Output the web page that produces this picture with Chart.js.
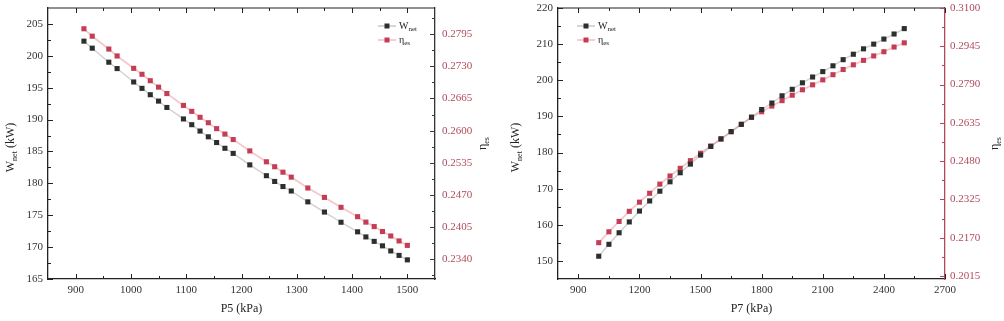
<!DOCTYPE html>
<html>
<head>
<meta charset="utf-8">
<script src="https://cdn.jsdelivr.net/npm/chart.js@4/dist/chart.umd.min.js"></script>
<style>
  body { margin: 0; background: #fff; }
  canvas { position: absolute; top: 0; }
  #c5 { left: 0; }
  #c7 { left: 502px; }
</style>
</head>
<body>
<canvas id="c5" width="502" height="321"></canvas>
<canvas id="c7" width="502" height="321"></canvas>
<script>
// left panel: P5 sweep
const p5 = [915, 930, 960, 975, 1005, 1020, 1035, 1050, 1065, 1095, 1110, 1125, 1140, 1155, 1170, 1185,
            1215, 1245, 1260, 1275, 1290, 1320, 1350, 1380, 1410, 1425, 1440, 1455, 1470, 1485, 1500];
const wNet5 = [202.3, 201.2, 199.0, 198.0, 195.9, 194.9, 193.9, 192.9, 191.9, 190.1, 189.2, 188.2, 187.3, 186.4, 185.5, 184.7,
               182.9, 181.2, 180.3, 179.5, 178.8, 177.1, 175.5, 173.9, 172.4, 171.6, 170.9, 170.2, 169.4, 168.7, 168.0];
const eta5 = [0.2806, 0.2791, 0.2765, 0.2751, 0.2726, 0.2714, 0.2701, 0.2688, 0.2675, 0.2651, 0.2639, 0.2627, 0.2616, 0.2604, 0.2593, 0.2582,
              0.2559, 0.2537, 0.2527, 0.2516, 0.2506, 0.2484, 0.2465, 0.2445, 0.2426, 0.2415, 0.2406, 0.2396, 0.2387, 0.2377, 0.2368];
const p5Ticks = [900, 1000, 1100, 1200, 1300, 1400, 1500];
const w5Ticks = [165, 170, 175, 180, 185, 190, 195, 200, 205];
const eta5Ticks = [0.2340, 0.2405, 0.2470, 0.2535, 0.2600, 0.2665, 0.2730, 0.2795];

// right panel: P7 sweep
const p7 = [1000, 1050, 1100, 1150, 1200, 1250, 1300, 1350, 1400, 1450, 1500, 1550, 1600, 1650, 1700, 1750,
            1800, 1850, 1900, 1950, 2000, 2050, 2100, 2150, 2200, 2250, 2300, 2350, 2400, 2450, 2500];
const wNet7 = [151.3, 154.6, 157.8, 160.8, 163.8, 166.6, 169.3, 171.9, 174.4, 176.8, 179.3, 181.7, 183.8, 185.8, 187.8, 189.8,
               191.9, 193.7, 195.7, 197.5, 199.3, 200.9, 202.4, 204.0, 205.7, 207.2, 208.7, 210.0, 211.4, 212.8, 214.3];
const eta7 = [0.2150, 0.2194, 0.2236, 0.2277, 0.2314, 0.2350, 0.2387, 0.2420, 0.2451, 0.2482, 0.2512, 0.2541, 0.2569, 0.2599, 0.2629, 0.2657,
              0.2680, 0.2703, 0.2725, 0.2747, 0.2769, 0.2789, 0.2809, 0.2830, 0.2851, 0.2870, 0.2888, 0.2906, 0.2923, 0.2942, 0.2959];
const p7Ticks = [900, 1200, 1500, 1800, 2100, 2400, 2700];
const w7Ticks = [150, 160, 170, 180, 190, 200, 210, 220];
const eta7Ticks = [0.2015, 0.2170, 0.2325, 0.2480, 0.2635, 0.2790, 0.2945, 0.3100];

const FONT = '"Liberation Serif", "Times New Roman", serif';
const DARK = '#2b302d';
const RED = '#c43d55';
const RED_AXIS = '#b04a5a';

// text with subscript parts, e.g. [['W'], ['net', true], [' (kW)']]
function subText(ctx, x, y, parts, size) {
  const big = size + 'px ' + FONT, small = Math.round(size * 0.7) + 'px ' + FONT;
  let w = 0;
  parts.forEach(([t, s]) => { ctx.font = s ? small : big; w += ctx.measureText(t).width; });
  let cx = x - w / 2;
  parts.forEach(([t, s]) => {
    ctx.font = s ? small : big;
    ctx.fillText(t, cx, s ? y + size * 0.3 : y);
    cx += ctx.measureText(t).width;
  });
}

function minorsOf(majors, scale) {
  const step = majors[1] - majors[0];
  const out = [];
  for (let i = -1; i < majors.length; i++) {
    const v = majors[0] + step * (i + 0.5);
    if (v > scale.min && v < scale.max) out.push(v);
  }
  return out;
}

function marks(ctx, scale, majors, side, a, color) {
  ctx.strokeStyle = color;
  ctx.lineWidth = 1;
  const draw = (v, len) => {
    const p = Math.round(scale.getPixelForValue(v)) + 0.5;
    ctx.beginPath();
    if (side === 'bottom') { ctx.moveTo(p, a.bottom); ctx.lineTo(p, a.bottom - len); }
    if (side === 'top') { ctx.moveTo(p, a.top); ctx.lineTo(p, a.top + len); }
    if (side === 'left') { ctx.moveTo(a.left, p); ctx.lineTo(a.left + len, p); }
    if (side === 'right') { ctx.moveTo(a.right, p); ctx.lineTo(a.right - len, p); }
    ctx.stroke();
  };
  majors.forEach(v => draw(v, 5));
  minorsOf(majors, scale).forEach(v => draw(v, 3));
}

const decor = {
  id: 'decor',
  afterDraw(chart, args, o) {
    const { ctx, chartArea: a, scales } = chart;
    ctx.save();
    // top frame line
    ctx.strokeStyle = '#222';
    ctx.lineWidth = 1.2;
    ctx.beginPath();
    ctx.moveTo(a.left, a.top);
    ctx.lineTo(a.right, a.top);
    ctx.stroke();

    marks(ctx, scales.x, o.xTicks, 'bottom', a, '#222');
    marks(ctx, scales.x, o.xTicks, 'top', a, '#222');
    marks(ctx, scales.y, o.wTicks, 'left', a, '#222');
    marks(ctx, scales.y2, o.etaTicks, 'right', a, o.rightColor);

    // axis titles
    ctx.fillStyle = '#222';
    ctx.textBaseline = 'middle';
    subText(ctx, (a.left + a.right) / 2, 309, [[o.xTitle]], 12);
    const midY = (a.top + a.bottom) / 2;
    ctx.save();
    ctx.translate(o.wTitleX, midY + 4);
    ctx.rotate(-Math.PI / 2);
    subText(ctx, 0, 0, [['W'], ['net', true], [' (kW)']], 12);
    ctx.restore();
    ctx.save();
    ctx.translate(o.etaTitleX, midY);
    ctx.rotate(-Math.PI / 2);
    subText(ctx, 0, 0, [['η'], ['es', true]], 12);
    ctx.restore();

    // legend
    const rows = [
      { label: [['W'], ['net', true]], line: 'rgba(140,140,140,0.6)', fill: DARK },
      { label: [['η'], ['es', true]], line: 'rgba(230,120,135,0.6)', fill: RED }
    ];
    rows.forEach((r, i) => {
      const y = o.legY + i * 14;
      ctx.strokeStyle = r.line;
      ctx.lineWidth = 1.2;
      ctx.beginPath();
      ctx.moveTo(o.legX, y);
      ctx.lineTo(o.legX + 18, y);
      ctx.stroke();
      ctx.fillStyle = r.fill;
      ctx.fillRect(o.legX + 6.5, y - 2.5, 5, 5);
      ctx.fillStyle = '#222';
      ctx.font = '10px ' + FONT;
      const w0 = ctx.measureText(r.label[0][0]).width;
      ctx.font = '7px ' + FONT;
      const w1 = ctx.measureText(r.label[1][0]).width;
      subText(ctx, o.legX + 21 + (w0 + w1) / 2, y, r.label, 10);
    });
    ctx.restore();
  }
};

function makeChart(id, c) {
  const fixTicks = arr => s => { s.ticks = arr.map(v => ({ value: v })); };
  return new Chart(id, {
    type: 'scatter',
    data: {
      datasets: [
        {
          label: 'Wnet',
          data: c.x.map((v, i) => ({ x: v, y: c.w[i] })),
          yAxisID: 'y',
          showLine: true,
          borderColor: 'rgba(150,150,150,0.45)',
          borderWidth: 1.4,
          pointStyle: 'rect',
          pointRadius: 3.6,
          pointBackgroundColor: DARK,
          pointBorderWidth: 0
        },
        {
          label: 'ηes',
          data: c.x.map((v, i) => ({ x: v, y: c.eta[i] })),
          yAxisID: 'y2',
          showLine: true,
          borderColor: 'rgba(235,130,145,0.45)',
          borderWidth: 1.8,
          pointStyle: 'rect',
          pointRadius: 3.6,
          pointBackgroundColor: RED,
          pointBorderWidth: 0
        }
      ]
    },
    options: {
      responsive: false,
      animation: false,
      layout: { padding: { top: 8, left: 0, right: 0, bottom: 0 } },
      plugins: {
        legend: { display: false },
        tooltip: { enabled: false },
        decor: c.decor
      },
      scales: {
        x: {
          type: 'linear',
          min: c.xMin, max: c.xMax,
          afterBuildTicks: fixTicks(c.xTicks),
          afterFit: s => { s.height = 42; s.paddingLeft = 0; s.paddingRight = 0; },
          grid: { display: false, drawTicks: false },
          border: { color: '#222', width: 1.3 },
          ticks: {
            font: { family: FONT, size: 11 }, color: '#333', padding: 5, maxRotation: 0, autoSkip: false,
            callback: v => String(v)
          }
        },
        y: {
          position: 'left',
          min: c.wMin, max: c.wMax,
          afterBuildTicks: fixTicks(c.wTicks),
          afterFit: s => { s.width = c.leftW; s.paddingTop = 0; s.paddingBottom = 0; },
          grid: { display: false, drawTicks: false },
          border: { color: '#222', width: 1.3 },
          ticks: { font: { family: FONT, size: 11 }, color: '#333', padding: c.leftPad, autoSkip: false }
        },
        y2: {
          position: 'right',
          min: c.etaMin, max: c.etaMax,
          afterBuildTicks: fixTicks(c.etaTicks),
          afterFit: s => { s.width = c.rightW; s.paddingTop = 0; s.paddingBottom = 0; },
          grid: { display: false, drawTicks: false },
          border: { color: c.decor.rightColor, width: 1.3 },
          ticks: {
            font: { family: FONT, size: 11 }, color: RED_AXIS, padding: c.rightPad, autoSkip: false,
            callback: v => v.toFixed(4)
          }
        }
      }
    },
    plugins: [decor]
  });
}

makeChart('c5', {
  x: p5, w: wNet5, eta: eta5,
  xMin: 850, xMax: 1550, xTicks: p5Ticks,
  wMin: 165, wMax: 207.5, wTicks: w5Ticks,
  etaMin: 0.2300, etaMax: 0.2848, etaTicks: eta5Ticks,
  leftW: 48, rightW: 67, leftPad: 5, rightPad: 7,
  decor: {
    xTicks: p5Ticks, wTicks: w5Ticks, etaTicks: eta5Ticks,
    xTitle: 'P5 (kPa)', wTitleX: 11, etaTitleX: 483,
    legX: 378, legY: 26, rightColor: '#333'
  }
});

makeChart('c7', {
  x: p7, w: wNet7, eta: eta7,
  xMin: 800, xMax: 2700, xTicks: p7Ticks,
  wMin: 145, wMax: 220, wTicks: w7Ticks,
  etaMin: 0.2003, etaMax: 0.3100, etaTicks: eta7Ticks,
  leftW: 56, rightW: 59, leftPad: 5, rightPad: 5,
  decor: {
    xTicks: p7Ticks, wTicks: w7Ticks, etaTicks: eta7Ticks,
    xTitle: 'P7 (kPa)', wTitleX: 14, etaTitleX: 493,
    legX: 75, legY: 26, rightColor: RED_AXIS
  }
});
</script>
</body>
</html>
